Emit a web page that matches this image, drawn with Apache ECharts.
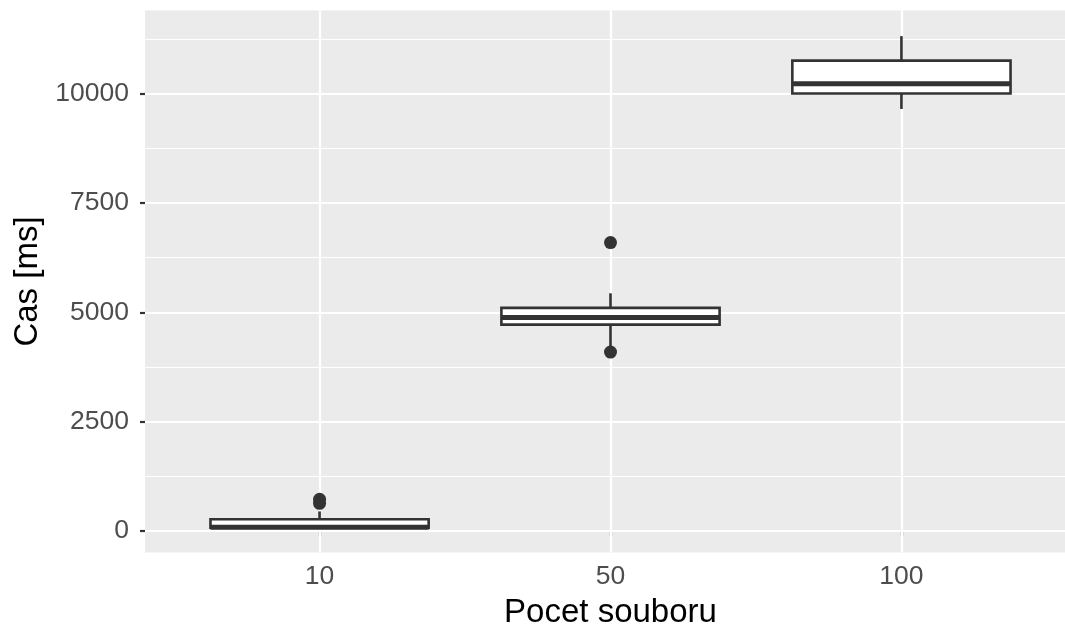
<!DOCTYPE html>
<html>
<head>
<meta charset="utf-8">
<script src="https://cdn.jsdelivr.net/npm/echarts@6/dist/echarts.min.js"></script>
<style>
    html, body { margin: 0; padding: 0; background: #fff; }
    #chart { width: 1065px; height: 632px; }
</style>
</head>
<body>
<div id="chart"></div>
<script>
// 数据：每组的箱线图统计值
const categories = ['10', '50', '100'];
const whiskerLow = [74, 4217, 9646];
const q1 = [76, 4719, 10000];
const medians = [90, 4880, 10224];
const q3 = [270, 5100, 10751];
const whiskerHigh = [450, 5434, 11310];

// 离群点（组序号 + 数值）
const outlierGroup = [0, 0, 1, 1];
const outlierValues = [726, 635, 6592, 4091];

// 坐标轴刻度
const yTicks = [0, 2500, 5000, 7500, 10000];
const yMinor = [1250, 3750, 6250, 8750, 11250];

const boxData = categories.map((c, i) => [i + 1, whiskerLow[i], q1[i], medians[i], q3[i], whiskerHigh[i]]);
const outlierData = outlierValues.map((v, i) => [outlierGroup[i] + 1, v]);
const xPositions = categories.map((c, i) => i + 1);

const ink = '#333333';

function renderBox(params, api) {
    const x = api.value(0);
    const half = api.size([0.75, 0])[0] / 2;
    const pLow = api.coord([x, api.value(1)]);
    const pQ1 = api.coord([x, api.value(2)]);
    const pMed = api.coord([x, api.value(3)]);
    const pQ3 = api.coord([x, api.value(4)]);
    const pHigh = api.coord([x, api.value(5)]);
    const cx = pQ1[0];
    const lineStyle = { stroke: ink, lineWidth: 2.6 };
    return {
        type: 'group',
        children: [
            { type: 'line', shape: { x1: cx, y1: pHigh[1], x2: cx, y2: pQ3[1] }, style: lineStyle },
            { type: 'line', shape: { x1: cx, y1: pQ1[1], x2: cx, y2: pLow[1] }, style: lineStyle },
            {
                type: 'rect',
                shape: { x: cx - half, y: pQ3[1], width: half * 2, height: pQ1[1] - pQ3[1] },
                style: { fill: '#ffffff', stroke: ink, lineWidth: 2.6 }
            },
            { type: 'line', shape: { x1: cx - half, y1: pMed[1], x2: cx + half, y2: pMed[1] }, style: { stroke: ink, lineWidth: 5 } }
        ]
    };
}

const chart = echarts.init(document.getElementById('chart'));

const option = {
    animation: false,
    textStyle: { fontFamily: 'Liberation Sans, Arial, sans-serif' },
    grid: {
        left: 145,
        top: 10.5,
        width: 931,
        height: 542,
        outerBoundsMode: 'none',
        containLabel: false,
        show: true,
        backgroundColor: '#EBEBEB',
        borderWidth: 0
    },
    xAxis: {
        type: 'value',
        min: 0.4,
        max: 3.6,
        name: 'Pocet souboru',
        nameLocation: 'middle',
        nameGap: 44,
        nameTextStyle: { fontSize: 33, color: '#000000' },
        axisLine: { show: false },
        splitLine: { show: false },
        axisTick: { show: true, customValues: xPositions, length: 5, lineStyle: { color: ink, width: 2.2 } },
        axisLabel: {
            customValues: xPositions,
            formatter: v => categories[Math.round(v) - 1],
            fontSize: 26.5,
            color: '#4D4D4D',
            margin: 11
        }
    },
    yAxis: {
        type: 'value',
        min: -489,
        max: 11896,
        name: 'Cas [ms]',
        nameLocation: 'middle',
        nameGap: 100,
        nameTextStyle: { fontSize: 33, color: '#000000' },
        axisLine: { show: false },
        splitLine: { show: false },
        axisTick: { show: true, customValues: yTicks, length: 5, lineStyle: { color: ink, width: 2.2 } },
        axisLabel: {
            customValues: yTicks,
            formatter: v => String(v),
            fontSize: 26.5,
            color: '#4D4D4D',
            margin: 16
        }
    },
    series: [
        {
            // 网格线
            type: 'line',
            data: [],
            z: 1,
            silent: true,
            markLine: {
                silent: true,
                symbol: ['none', 'none'],
                label: { show: false },
                emphasis: { disabled: true },
                data: [
                    ...yMinor.map(v => ({ yAxis: v, lineStyle: { color: '#ffffff', width: 1.1, type: 'solid' } })),
                    ...yTicks.map(v => ({ yAxis: v, lineStyle: { color: '#ffffff', width: 2.2, type: 'solid' } })),
                    ...xPositions.map(v => ({ xAxis: v, lineStyle: { color: '#ffffff', width: 2.2, type: 'solid' } }))
                ]
            }
        },
        {
            type: 'custom',
            z: 10,
            renderItem: renderBox,
            encode: { x: 0, y: [1, 2, 3, 4, 5] },
            data: boxData
        },
        {
            type: 'scatter',
            z: 11,
            symbolSize: 13,
            itemStyle: { color: ink, opacity: 1 },
            data: outlierData
        }
    ]
};

chart.setOption(option);
</script>
</body>
</html>
